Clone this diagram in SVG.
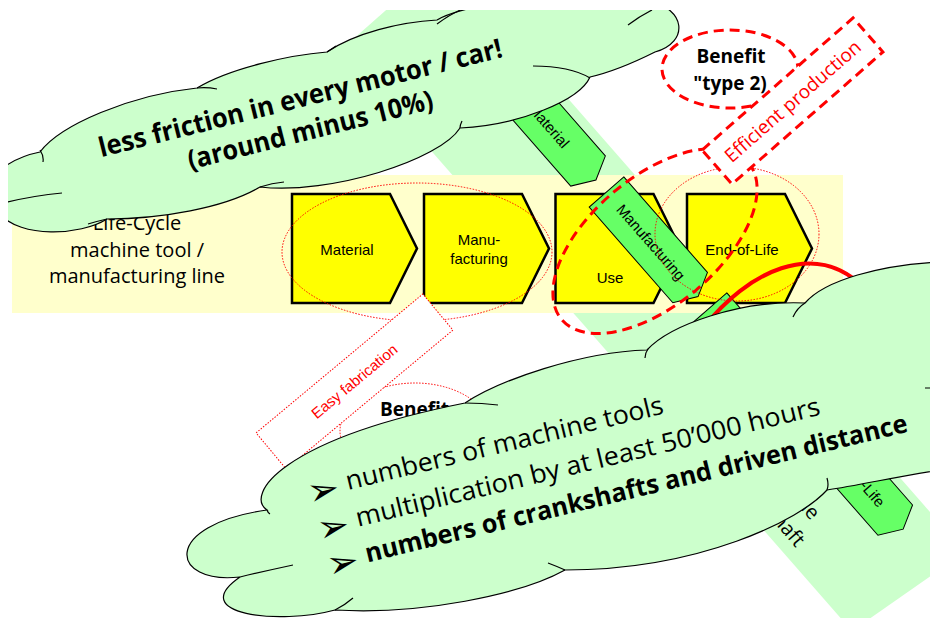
<svg xmlns="http://www.w3.org/2000/svg" width="930" height="618" viewBox="0 0 930 618">
<defs>
<clipPath id="clip"><rect x="8" y="10" width="922" height="608"/></clipPath>
<style>
.cloud{fill:#CCFFCC;stroke:#000;stroke-width:1.2}
.seam{fill:none;stroke:#000;stroke-width:1.2}
.band{fill:#CCFFCC}
.box{fill:#FFFF00;stroke:#000;stroke-width:2.5}
.arrow{fill:#66FF66;stroke:#000;stroke-width:1}
.dot{fill:none;stroke:#FF0000;stroke-width:1;stroke-dasharray:1.5 1.5}
.dash{fill:none;stroke:#FF0000;stroke-width:3;stroke-dasharray:10 6}
.arial{font-family:"Liberation Sans",Arial,sans-serif;fill:#000}
.cal{font-family:"Open Sans","Liberation Sans",sans-serif;fill:#000}
.bul{font-family:"DejaVu Sans",sans-serif;font-size:38px;fill:#000}
</style>
</defs>
<rect width="930" height="618" fill="#fff"/>
<g clip-path="url(#clip)">
<g id="band">
<polygon class="band" points="342,49 445,-42 965,552 852,631"/>
</g>
<g id="lifecycle-area">
<rect x="12" y="175" width="831" height="138" fill="#FFFFCC"/>
<text class="cal" font-size="20" text-anchor="middle"><tspan x="137" y="230">Life-Cycle</tspan><tspan x="137" y="257">machine tool /</tspan><tspan x="137" y="283">manufacturing line</tspan></text>
</g>
<g id="box-material">
<polygon class="box" points="292,194 390,194 417,248.5 390,303 292,303"/>
<text class="arial" font-size="15" x="347" y="255" text-anchor="middle">Material</text>
</g>
<g id="box-manufacturing">
<polygon class="box" points="424,194 522,194 549,248.5 522,303 424,303"/>
<text class="arial" font-size="15" text-anchor="middle"><tspan x="479" y="245">Manu-</tspan><tspan x="479" y="264">facturing</tspan></text>
</g>
<g id="box-use">
<polygon class="box" points="555.5,194 653.5,194 680.5,248.5 653.5,303 555.5,303"/>
<text class="arial" font-size="15" x="610" y="283" text-anchor="middle">Use</text>
</g>
<g id="box-eol">
<polygon class="box" points="687,194 785,194 812,248.5 785,303 687,303"/>
<text class="arial" font-size="15" x="742" y="255" text-anchor="middle">End-of-Life</text>
</g>
<g id="band-label">
<text class="cal" font-size="20" text-anchor="end" transform="translate(811,521) rotate(48.8)">Life-Cycle</text>
<text class="cal" font-size="20" text-anchor="end" transform="translate(796,548) rotate(48.8)">crankshaft</text>
</g>
<g id="arrow-material" transform="translate(504.4,75.4) rotate(48.8)">
<polygon class="arrow" points="0,-23 127,-23 139,0 127,23 0,23"/>
<text class="arial" font-size="15" x="67" y="5" text-anchor="middle">Material</text>
</g>
<g id="arrow-manufacturing" transform="translate(606.5,192) rotate(48.8)">
<polygon class="arrow" points="0,-23 127,-23 139,0 127,23 0,23"/>
<text class="arial" font-size="15" x="67" y="5" text-anchor="middle">Manufacturing</text>
</g>
<g id="arrow-use" transform="translate(709.5,308) rotate(48.8)">
<polygon class="arrow" points="0,-23 127,-23 139,0 127,23 0,23"/>
</g>
<g id="arrow-eol" transform="translate(811.6,424.6) rotate(48.8)">
<polygon class="arrow" points="0,-23 127,-23 139,0 127,23 0,23"/>
<text class="arial" font-size="15" x="70" y="5" text-anchor="middle">End-of-Life</text>
</g>
<g id="marks">
<ellipse class="dot" cx="417" cy="252" rx="135" ry="69"/>
<ellipse class="dot" cx="737" cy="234" rx="82" ry="67"/>
</g>
<g id="benefit1">
<ellipse class="dot" cx="415" cy="431" rx="75" ry="48"/>
<text class="cal" font-size="19" font-weight="bold" x="380" y="416">Benefit</text>
</g>
<g id="easy-fabrication" transform="translate(354.5,381.5) rotate(-39.8)">
<rect class="dot" x="-108.5" y="-23.5" width="217" height="47" style="fill:#fff"/>
<text class="arial" font-size="15" x="0" y="5" text-anchor="middle" style="fill:#FF0000">Easy fabrication</text>
</g>
<g id="big-ellipse">
<ellipse class="dash" cx="655" cy="241" rx="122" ry="64" transform="rotate(-40 655 241)"/>
</g>
<g id="benefit2">
<ellipse class="dash" cx="730" cy="69" rx="68" ry="39"/>
<text class="cal" font-size="19" font-weight="bold" text-anchor="middle"><tspan x="731" y="63">Benefit</tspan><tspan x="730" y="90">"type 2)</tspan></text>
</g>
<g id="efficient-production" transform="translate(792.5,101) rotate(-41.2)">
<rect class="dash" x="-100.3" y="-22.6" width="200.6" height="45.3" style="fill:#fff"/>
<text class="cal" font-size="19" x="0" y="7" text-anchor="middle" style="fill:#FF0000">Efficient production</text>
</g>
<g id="connectors">
<path d="M705,326 C745,275 815,235 866,290" fill="none" stroke="#FF0000" stroke-width="4"/>
</g>
<g id="cloud-top">
<path class="cloud" d="M40,152 C60,125 130,95 197,88 C230,68 290,55 327,52 C355,33 400,22 437,20 C470,0 600,-12 650,2 C685,8 690,42 655,52 C635,62 612,72 590,77 C580,100 520,125 460,128 C440,160 330,195 260,187 C225,208 160,219 107,219 C80,236 20,238 0,214 L0,170 C10,162 25,155 40,152 Z"/>
<path class="seam" d="M40,150 Q44,156 43,162 M0,204 Q30,196 62,193 M107,219 Q98,221 88,224 M197,88 Q207,87 217,89 M260,187 Q272,183 284,182 M327,52 Q330,50 336,46 M437,24 Q450,14 465,8 M460,128 Q460,125 462,121 M533,66 Q570,66 590,78 M628,25 Q640,16 652,10"/>
<g transform="rotate(-14 302.5 107)"><text class="cal" font-size="27" font-weight="bold" x="302.5" y="107" text-anchor="middle" textLength="415" lengthAdjust="spacingAndGlyphs">less friction in every motor / car!</text></g>
<g transform="rotate(-14 312.5 139)"><text class="cal" font-size="27" font-weight="bold" x="312.5" y="139" text-anchor="middle" textLength="252" lengthAdjust="spacingAndGlyphs">(around minus 10%)</text></g>
</g>
<g id="cloud-bottom">
<path class="cloud" d="M267,510 C245,495 280,440 465,403 C500,380 580,352 647,350 C670,325 740,300 805,303 C825,280 880,265 940,262 L940,470 C900,476 860,485 827,490 C800,520 700,570 565,570 C520,595 420,615 335,610 C280,625 185,615 240,577 C170,585 160,525 267,510 Z"/>
<path class="seam" d="M240,577 Q265,571 293,565 M335,610 Q345,605 353,598 M565,570 Q556,566 548,563 M827,490 Q829,485 827,478 M925,388 L932,388 M805,303 Q797,308 793,317 M648,349 Q645,353 645,358 M465,403 Q482,403 498,405 M267,510 Q268,513 270,514"/>
<g transform="translate(348,490) rotate(-13.6)">
<text class="bul" x="-40" y="7">➢</text>
<text class="bul" x="-39" y="45">➢</text>
<text class="bul" x="-38" y="82">➢</text>
<text class="cal" font-size="26" x="0" y="0" textLength="326" lengthAdjust="spacingAndGlyphs">numbers of machine tools</text>
<text class="cal" font-size="26" x="1" y="38" textLength="477" lengthAdjust="spacingAndGlyphs">multiplication by at least 50’000 hours</text>
<text class="cal" font-size="26" font-weight="bold" x="2" y="75" textLength="557" lengthAdjust="spacingAndGlyphs">numbers of crankshafts and driven distance</text>
</g>
</g>
</g>
</svg>
